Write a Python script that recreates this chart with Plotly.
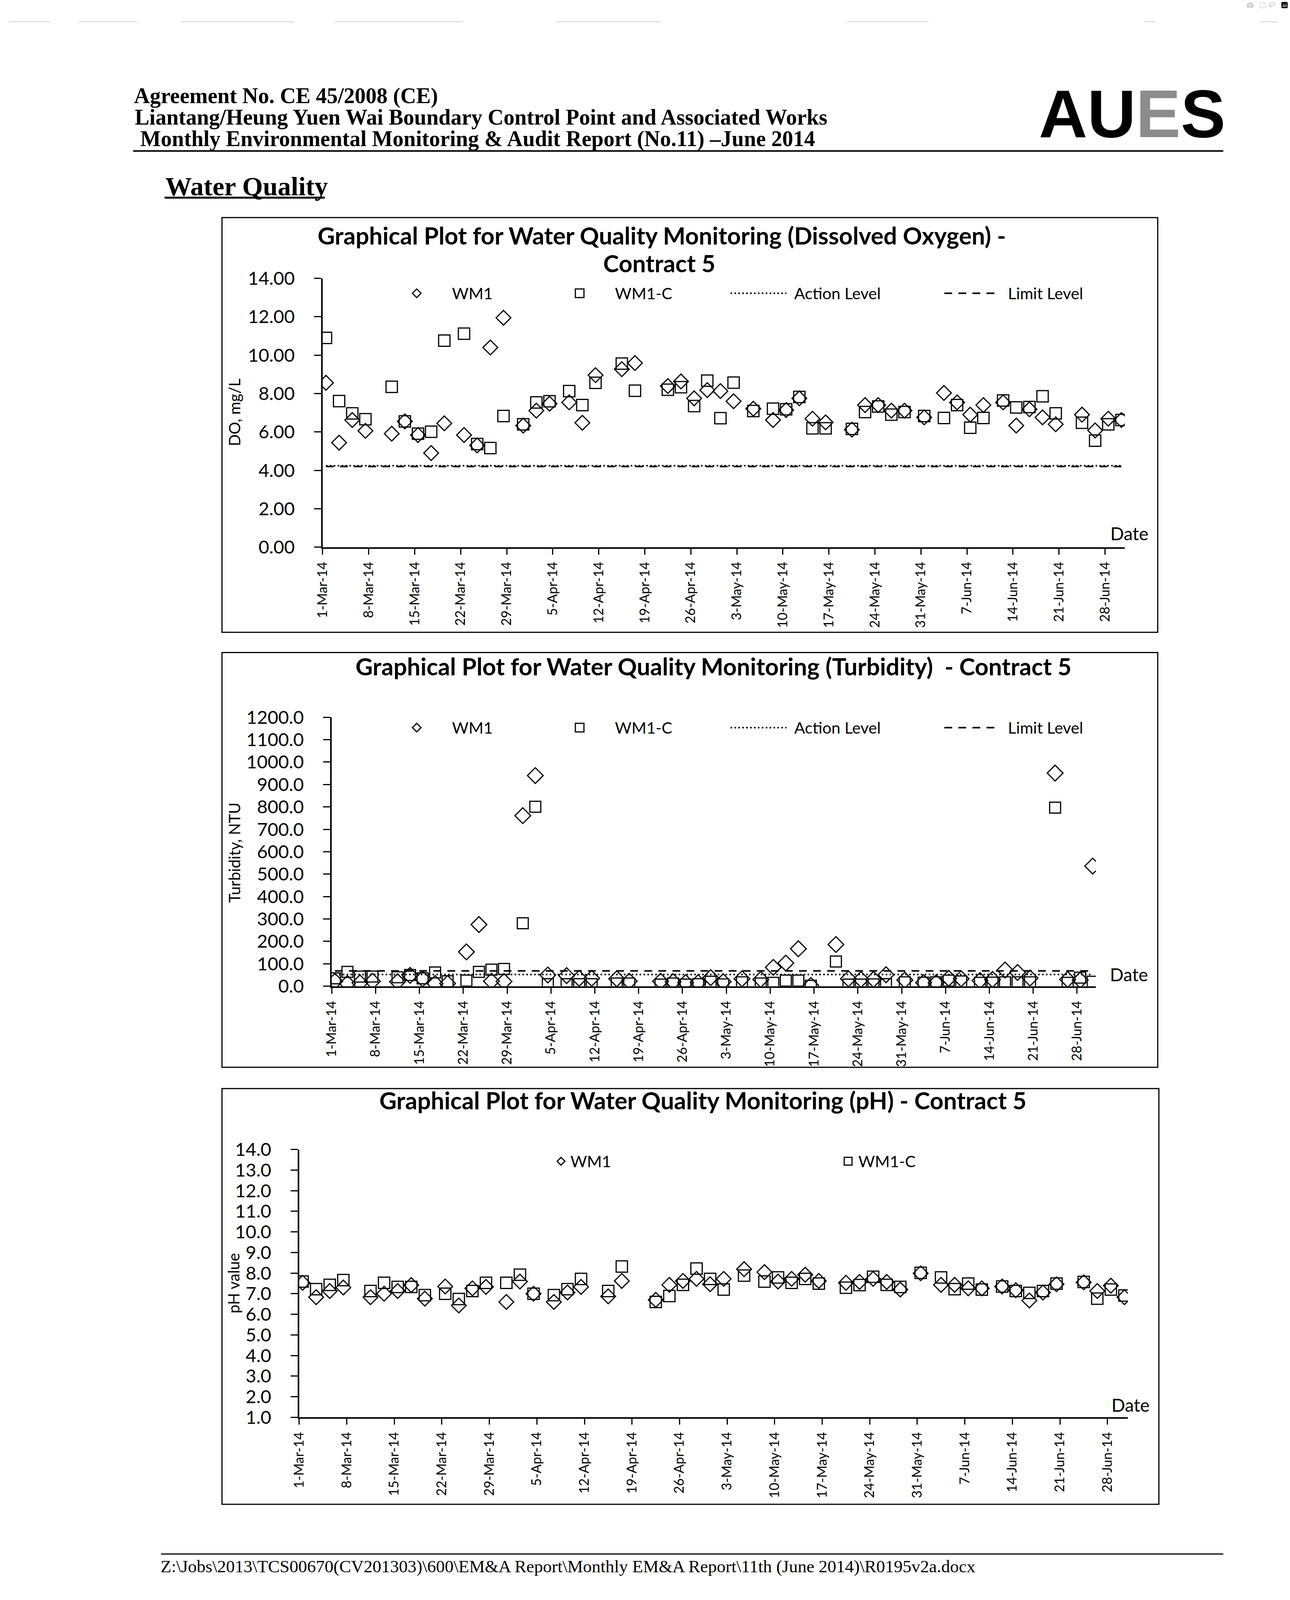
import plotly.graph_objects as go
import pandas as pd

W, H = 3302, 4669

# ---------------- data ----------------
DATES = ["2014-03-01", "2014-03-03", "2014-03-05", "2014-03-07", "2014-03-11", "2014-03-13",
         "2014-03-15", "2014-03-17", "2014-03-19", "2014-03-22", "2014-03-24", "2014-03-26",
         "2014-03-28", "2014-03-31",
         "2014-04-02", "2014-04-04", "2014-04-07", "2014-04-09", "2014-04-11", "2014-04-15",
         "2014-04-17", "2014-04-22", "2014-04-24", "2014-04-26", "2014-04-28", "2014-04-30",
         "2014-05-02", "2014-05-05", "2014-05-08", "2014-05-10", "2014-05-12", "2014-05-14",
         "2014-05-16", "2014-05-20", "2014-05-22", "2014-05-24", "2014-05-26", "2014-05-28",
         "2014-05-31",
         "2014-06-03", "2014-06-05", "2014-06-07", "2014-06-09", "2014-06-12", "2014-06-14",
         "2014-06-16", "2014-06-18", "2014-06-20", "2014-06-24", "2014-06-26", "2014-06-28",
         "2014-06-30"]

DO_WM1 = [8.56, 5.44, 6.62, 6.06, 5.91, 6.55, 5.84, 4.90, 6.45, 5.84, 5.30, 10.40, 11.95, 6.33,
          7.11, 7.47, 7.54, 6.48, 8.96, 9.27, 9.59, 8.39, 8.63, 7.75, 8.18, 8.13,
          7.60, 7.21, 6.62, 7.14, 7.75, 6.69, 6.50, 6.12, 7.40, 7.40, 7.11, 7.11, 6.76,
          8.03, 7.54, 6.90, 7.40, 7.54, 6.33, 7.18, 6.76, 6.40, 6.90, 6.08, 6.69, 6.62]
DO_WM1C = [10.90, 7.61, 6.97, 6.66, 8.35, 6.55, 5.91, 6.01, 10.76, 11.12, 5.37, 5.16, 6.83, 6.40,
           7.54, 7.60, 8.13, 7.40, 8.56, 9.56, 8.15, 8.20, 8.33, 7.35, 8.67, 6.72,
           8.57, 7.09, 7.21, 7.18, 7.82, 6.19, 6.19, 6.16, 7.04, 7.33, 6.90, 7.04, 6.83,
           6.73, 7.40, 6.22, 6.73, 7.64, 7.28, 7.30, 7.86, 6.97, 6.48, 5.55, 6.40, 6.62]
DO_ACTION = 4.24
DO_LIMIT = 4.20

TURB_WM1 = [22, 12, 15, 22, 20, 48, 33, 12, 12, 153, 275, 22, 21, 761,
            940, 50, 47, 35, 35, 33, 22, 22, 20, 16, 16, 38,
            20, 33, 30, 84, 103, 167, 3, 186, 33, 30, 30, 51, 27,
            16, 15, 35, 33, 25, 30, 72, 61, 36, 951, 30, 27, 536]
TURB_WM1C = [35, 64, 43, 43, 40, 50, 35, 61, 22, 25, 64, 74, 77, 281,
             801, 9, 9, 9, 9, 12, 12, 7, 12, 7, 9, 20,
             8, 17, 12, 15, 25, 25, 2, 110, 7, 7, 8, 9, 17,
             16, 17, 25, 21, 15, 16, 17, 17, 17, 797, 15, 38, 20]
TURB_ACTION = 52
TURB_LIMIT = 68

PH_WM1 = [7.53, 6.83, 7.13, 7.30, 6.83, 7.00, 7.13, 7.42, 6.76, 7.35, 6.43, 7.26, 7.33, 6.60,
          7.59, 7.00, 6.60, 7.06, 7.33, 6.87, 7.62, 6.70, 7.43, 7.62, 7.72, 7.46,
          7.72, 8.19, 8.05, 7.59, 7.72, 7.92, 7.62, 7.53, 7.57, 7.72, 7.57, 7.20, 7.99,
          7.43, 7.43, 7.26, 7.26, 7.35, 7.17, 6.67, 7.06, 7.46, 7.55, 7.13, 7.39, 6.83]
PH_WM1C = [7.59, 7.22, 7.43, 7.66, 7.13, 7.53, 7.33, 7.33, 6.93, 7.00, 6.74, 7.13, 7.53, 7.53,
           7.92, 7.00, 6.93, 7.22, 7.72, 7.13, 8.32, 6.60, 6.89, 7.43, 8.22, 7.72,
           7.20, 7.88, 7.59, 7.79, 7.53, 7.72, 7.49, 7.29, 7.42, 7.82, 7.43, 7.33, 8.01,
           7.79, 7.22, 7.49, 7.20, 7.35, 7.13, 7.04, 7.13, 7.49, 7.57, 6.76, 7.20, 6.91]

TICK_DATES = ["2014-03-01", "2014-03-08", "2014-03-15", "2014-03-22", "2014-03-29", "2014-04-05",
              "2014-04-12", "2014-04-19", "2014-04-26", "2014-05-03", "2014-05-10", "2014-05-17",
              "2014-05-24", "2014-05-31", "2014-06-07", "2014-06-14", "2014-06-21", "2014-06-28"]
TICK_LABELS = ["1-Mar-14", "8-Mar-14", "15-Mar-14", "22-Mar-14", "29-Mar-14", "5-Apr-14",
               "12-Apr-14", "19-Apr-14", "26-Apr-14", "3-May-14", "10-May-14", "17-May-14",
               "24-May-14", "31-May-14", "7-Jun-14", "14-Jun-14", "21-Jun-14", "28-Jun-14"]
X_RANGE = ["2014-03-01", "2014-07-01"]

DO_TICKS = [0, 2, 4, 6, 8, 10, 12, 14]
TURB_TICKS = [0, 100, 200, 300, 400, 500, 600, 700, 800, 900, 1000, 1100, 1200]
PH_TICKS = [1, 2, 3, 4, 5, 6, 7, 8, 9, 10, 11, 12, 13, 14]

# ---------------- helpers ----------------
def fx(px):
    return px / W


def fy(py):
    return 1 - py / H


FONT = "Lato"
x_pts = pd.to_datetime(DATES) + pd.Timedelta(hours=12)   # Excel plots between tick marks
x_line = [x_pts[0], x_pts[-1]]

fig = go.Figure()


def add_series(xa, ya, wm1, wm1c, dsize, ssize):
    fig.add_trace(go.Scatter(x=x_pts, y=wm1, mode="markers", name="WM1", xaxis=xa, yaxis=ya,
                             marker=dict(symbol="diamond-open", size=dsize, color="black",
                                         line=dict(width=3, color="black"))))
    fig.add_trace(go.Scatter(x=x_pts, y=wm1c, mode="markers", name="WM1-C", xaxis=xa, yaxis=ya,
                             marker=dict(symbol="square-open", size=ssize, color="black",
                                         line=dict(width=3, color="black"))))


def add_levels(xa, ya, action, limit):
    fig.add_trace(go.Scatter(x=x_line, y=[action, action], mode="lines", name="Action Level",
                             xaxis=xa, yaxis=ya, line=dict(color="black", width=4, dash="4px,6px")))
    fig.add_trace(go.Scatter(x=x_line, y=[limit, limit], mode="lines", name="Limit Level",
                             xaxis=xa, yaxis=ya, line=dict(color="black", width=4, dash="20px,16px")))


add_series("x", "y", DO_WM1, DO_WM1C, 29, 29)
add_levels("x", "y", DO_ACTION, DO_LIMIT)
add_series("x2", "y2", TURB_WM1, TURB_WM1C, 31, 28)
add_levels("x2", "y2", TURB_ACTION, TURB_LIMIT)
add_series("x3", "y3", PH_WM1, PH_WM1C, 29, 29)

xcommon = dict(type="date", range=X_RANGE, tickvals=TICK_DATES, ticktext=TICK_LABELS,
               tickangle=-90, ticks="outside", ticklen=15, tickwidth=3, tickcolor="black",
               showline=True, linewidth=4, linecolor="black", showgrid=False, zeroline=False,
               tickfont=dict(family=FONT, size=34, color="black"), ticklabelstandoff=5,
               fixedrange=True)
ycommon = dict(ticks="outside", ticklen=18, tickwidth=3, tickcolor="black",
               showline=True, linewidth=4, linecolor="black", showgrid=False, zeroline=False,
               tickfont=dict(family=FONT, size=47, color="black"), ticklabelstandoff=40,
               fixedrange=True)

fig.update_layout(
    width=W, height=H, margin=dict(l=0, r=0, t=0, b=0),
    paper_bgcolor="white", plot_bgcolor="white", showlegend=False,
    xaxis=dict(domain=[fx(808.6), fx(2876)], anchor="y", **xcommon),
    yaxis=dict(domain=[fy(1584), fy(789)], anchor="x", range=[0, 14], tickvals=DO_TICKS,
               tickformat=".2f", **ycommon),
    xaxis2=dict(domain=[fx(832), fx(2801.5)], anchor="y2", **xcommon),
    yaxis2=dict(domain=[fy(2883), fy(2087.5)], anchor="x2", range=[0, 1200], tickvals=TURB_TICKS,
                tickformat=".1f", **ycommon),
    xaxis3=dict(domain=[fx(748), fx(2884)], anchor="y3", **xcommon),
    yaxis3=dict(domain=[fy(4158.7), fy(3366)], anchor="x3", range=[1, 14], tickvals=PH_TICKS,
                tickformat=".1f", **ycommon),
)

shapes = []
annotations = []


def text(s, x, y, size, family=FONT, xanchor="left", color="black", angle=0):
    annotations.append(dict(text=s, x=fx(x), y=fy(y), xref="paper", yref="paper",
                            xanchor=xanchor, yanchor="middle", showarrow=False, textangle=angle,
                            font=dict(family=family, size=size, color=color)))


def hline(x0, x1, y, width, dash="solid", color="black"):
    shapes.append(dict(type="line", xref="paper", yref="paper", x0=fx(x0), x1=fx(x1),
                       y0=fy(y), y1=fy(y), line=dict(color=color, width=width, dash=dash)))


def box(x0, x1, y0, y1):
    shapes.append(dict(type="rect", xref="paper", yref="paper", x0=fx(x0), x1=fx(x1),
                       y0=fy(y1), y1=fy(y0), line=dict(color="black", width=3)))


def diamond(cx, cy, h):
    shapes.append(dict(type="path", xref="paper", yref="paper", xsizemode="pixel",
                       ysizemode="pixel", xanchor=fx(cx), yanchor=fy(cy),
                       path="M {},0 L 0,{} L {},0 L 0,{} Z".format(-h, h, h, -h),
                       line=dict(color="black", width=3)))


def square(cx, cy, h):
    shapes.append(dict(type="rect", xref="paper", yref="paper", xsizemode="pixel",
                       ysizemode="pixel", xanchor=fx(cx), yanchor=fy(cy),
                       x0=-h, x1=h, y0=-h, y1=h, line=dict(color="black", width=3)))


# ---------------- faint scan marks along the top edge ----------------
for a, b in [(0, 105), (180, 330), (444, 735), (840, 1170), (1410, 1680), (2160, 2370),
             (2925, 2955), (3225, 3270)]:
    hline(a, b, 30, 2, color="#d0d0d0")

# ---------------- page header ----------------
SERIF = "Liberation Serif"
HSZ = 56
text("<b>Agreement No. CE 45/2008 (CE)</b>", 320, 249, HSZ, SERIF)
text("<b>Liantang/Heung Yuen Wai Boundary Control Point and Associated Works</b>", 322, 312, HSZ, SERIF)
text("<b> Monthly Environmental Monitoring &amp; Audit Report (No.11) \u2013June 2014</b>", 322, 376, HSZ, SERIF)
text("<b>AU<span style='color:#8c8c8c'>E</span>S</b>", 2652, 302, 172, "Liberation Sans")
hline(320, 3130, 412, 4)
text("<b>Water Quality</b>", 401, 517, 68, SERIF)
hline(401, 814, 550, 5)

# ---------------- footer ----------------
hline(392, 3130, 4563, 3)
text(r"Z:\Jobs\2013\TCS00670(CV201303)\600\EM&amp;A Report\Monthly EM&amp;A Report\11th (June 2014)\R0195v2a.docx",
     389, 4600, 45, SERIF)

# ---------------- chart boxes ----------------
box(549, 2961, 609, 1836)
box(549, 2961, 1896, 3123)
box(549, 2964, 3186, 4416)

# ---------------- chart titles ----------------
TSZ = 61
text("<b>Graphical Plot for Water Quality Monitoring (Dissolved Oxygen) -</b>", 1683, 662, TSZ,
     xanchor="center")
text("<b>Contract 5</b>", 1676, 744, TSZ, xanchor="center")
text("<b>Graphical Plot for Water Quality Monitoring (Turbidity)\u00a0 - Contract 5</b>", 1816, 1936, TSZ,
     xanchor="center")
text("<b>Graphical Plot for Water Quality Monitoring (pH) - Contract 5</b>", 1788, 3220, TSZ,
     xanchor="center")

# ---------------- axis titles & "Date" ----------------
text("DO, mg/L", 581, 1185, 40, xanchor="center", angle=-90)
text("Turbidity, NTU", 581, 2487, 40, xanchor="center", angle=-90)
text("pH value", 579, 3761, 40, xanchor="center", angle=-90)
text("Date", 2888, 1544, 46, xanchor="center")
text("Date", 2887, 2848, 46, xanchor="center")
text("Date", 2891, 4122, 46, xanchor="center")

# ---------------- legends ----------------
LSZ = 41
for ly in (833, 2118):
    diamond(1051, ly, 11)
    text("WM1", 1140, ly, LSZ)
    square(1471, ly, 11)
    text("WM1-C", 1560, ly, LSZ)
    hline(1860, 2004, ly, 4, "4px,6px")
    text("Action Level", 2022, ly, LSZ)
    hline(2411, 2541, ly, 4, "20px,16px")
    text("Limit Level", 2573, ly, LSZ)

diamond(1423, 3401, 10)
text("WM1", 1445, 3401, LSZ)
square(2163, 3401, 10)
text("WM1-C", 2187, 3401, LSZ)

fig.update_layout(shapes=shapes, annotations=annotations)

# The page is laid out in fractions of the page; if the browser viewport is shorter
# than the page, fit the figure height to it so nothing is cut off.
POST = """
document.body.style.margin = '0';
var gd = document.getElementById('{plot_id}');
var vh = window.innerHeight;
if (vh && vh < 4669) {
  gd.style.height = vh + 'px';
  Plotly.relayout(gd, {height: vh});
}
"""
fig.write_html("out.html", post_script=POST)
